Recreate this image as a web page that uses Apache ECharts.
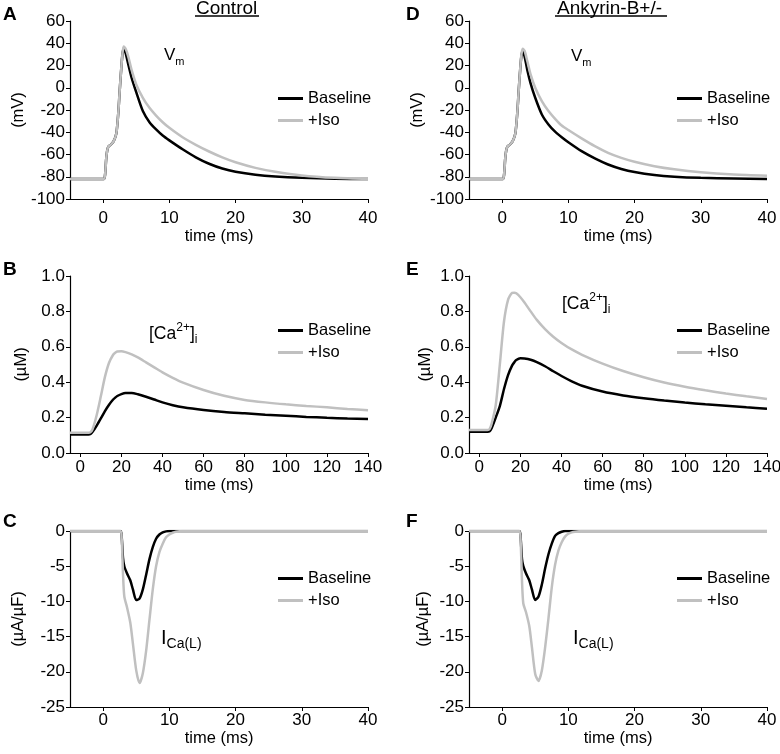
<!DOCTYPE html>
<html>
<head>
<meta charset="utf-8">
<script src="https://cdn.jsdelivr.net/npm/echarts@6/dist/echarts.min.js"></script>
<style>
  html, body { margin: 0; padding: 0; background: #fff; }
  #main { width: 780px; height: 754px; }
</style>
</head>
<body>
<div id="main"></div>
<script>
// membrane potential, time in ms
const vmTime = [-5, 0.1, 0.3, 0.45, 0.6, 0.8, 1.2, 1.6, 2.0, 2.3, 2.5, 2.7, 2.9, 3.1, 3.4, 3.8, 4.3, 5, 6, 7, 8, 9, 10, 12, 14, 16, 18, 20, 23, 26, 30, 35, 40];
const ctrlVmBase = [-82, -82, -78, -65, -57, -53, -51, -48, -41, -22, -3, 14, 29, 35.5, 31, 21, 9, -4, -21, -31, -37.5, -43, -47.3, -55.3, -62.5, -68.3, -72.6, -75.5, -78.2, -79.8, -81, -81.8, -82];
const ctrlVmIso = [-82, -82, -78, -65, -57, -53, -51, -48, -41, -22, -3, 14, 29, 37, 35, 28, 16, 3, -9, -18, -25, -31, -36, -44.5, -51.3, -57.3, -62.6, -67, -72, -75.5, -78.8, -81, -82];
const ankVmBase = [-82, -82, -78, -65, -57, -53, -51, -48, -41, -22, -3, 14, 28, 33, 28, 16, 4, -9, -24, -33, -39.5, -44.5, -49, -57, -63.5, -69, -73, -75.8, -78.5, -80, -81, -81.5, -82];
const ankVmIso = [-82, -82, -78, -65, -57, -53, -51, -48, -41, -22, -3, 14, 29, 35, 33, 24, 12, 0, -12, -21, -28, -34, -38, -45.5, -52.5, -58.5, -63, -66.5, -70.5, -73.3, -75.9, -77.9, -79];

// calcium transient
const caTime = [-5, 0, 4, 5, 6, 8, 10, 12, 14, 16, 17, 18, 20, 22, 25, 28, 32, 36, 40, 45, 50, 60, 70, 80, 90, 100, 110, 120, 130, 140];
const ctrlCaBase = [0.105, 0.105, 0.105, 0.108, 0.12, 0.155, 0.195, 0.237, 0.273, 0.302, 0.313, 0.322, 0.333, 0.339, 0.339, 0.332, 0.318, 0.302, 0.286, 0.27, 0.258, 0.243, 0.232, 0.224, 0.216, 0.21, 0.204, 0.199, 0.195, 0.192];
const ctrlCaIso = [0.115, 0.115, 0.115, 0.118, 0.135, 0.215, 0.32, 0.43, 0.51, 0.555, 0.566, 0.573, 0.575, 0.57, 0.557, 0.54, 0.512, 0.484, 0.456, 0.425, 0.398, 0.356, 0.323, 0.3, 0.286, 0.275, 0.266, 0.258, 0.249, 0.241];
const ankCaBase = [0.12, 0.12, 0.12, 0.123, 0.14, 0.2, 0.265, 0.36, 0.44, 0.495, 0.512, 0.525, 0.535, 0.534, 0.527, 0.514, 0.49, 0.462, 0.435, 0.405, 0.38, 0.347, 0.325, 0.309, 0.296, 0.285, 0.275, 0.267, 0.258, 0.25];
const ankCaIso = [0.13, 0.13, 0.13, 0.135, 0.165, 0.27, 0.5, 0.74, 0.865, 0.905, 0.906, 0.902, 0.88, 0.85, 0.8, 0.752, 0.7, 0.657, 0.622, 0.585, 0.555, 0.505, 0.463, 0.428, 0.398, 0.374, 0.354, 0.336, 0.32, 0.305];

// L-type calcium current
const icaTime = [-5, 2.6, 2.8, 3.0, 3.2, 3.6, 4.1, 4.5, 5.0, 5.5, 6.0, 6.5, 7.0, 7.5, 8.0, 8.5, 9.0, 9.5, 10, 10.5, 11, 12, 20, 40];
const ctrlIcaBase = [0, 0, -0.8, -3.8, -5, -6, -7, -8.3, -9.8, -9.6, -8.3, -6.2, -4, -2.3, -1.1, -0.5, -0.2, -0.05, 0, 0, 0, 0, 0, 0];
const ctrlIcaIso = [0, 0, -1, -6, -9.3, -10.8, -13, -16, -19.8, -21.6, -20.2, -17, -12.6, -8.3, -5, -3, -1.8, -0.9, -0.5, -0.25, -0.1, 0, 0, 0];
const ankIcaBase = [0, 0, -1, -4, -5, -6, -7, -8.3, -9.8, -9.3, -7.6, -5.3, -3.3, -1.8, -0.7, -0.3, -0.1, 0, 0, 0, 0, 0, 0, 0];
const ankIcaIso = [0, 0, -1.5, -7, -10.3, -11.5, -13.5, -16.5, -20.3, -21.3, -19.8, -16.5, -12.4, -8, -4.8, -2.8, -1.6, -0.8, -0.4, -0.2, -0.1, 0, 0, 0];

const shortTicks = [0, 10, 20, 30, 40];
const longTicks = [0, 20, 40, 60, 80, 100, 120, 140];

const FONT = 'Liberation Sans, Arial, sans-serif';
const BLACK = '#000000';
const GRAY = '#c0c0c0';

const pair = (t, v) => t.map((x, i) => [x, v[i]]);

// one entry per panel: A, D, B, E, C, F
const panels = [
  { left: 70, top: 21, height: 178, xmax: 40, ticks: shortTicks, ymin: -100, ymax: 60, step: 20, yname: '(mV)', yGap: 40, lm: 11, xGap: 29, lgTop: 90, t: vmTime, base: ctrlVmBase, iso: ctrlVmIso },
  { left: 469, top: 21, height: 178, xmax: 40, ticks: shortTicks, ymin: -100, ymax: 60, step: 20, yname: '(mV)', yGap: 37, lm: 11, xGap: 29, lgTop: 90, t: vmTime, base: ankVmBase, iso: ankVmIso },
  { left: 70, top: 276, height: 177, xmax: 140, ticks: longTicks, ymin: 0, ymax: 1, step: 0.2, yname: '(\u00b5M)', yGap: 40, lm: 6, xGap: 23, lgTop: 322, t: caTime, base: ctrlCaBase, iso: ctrlCaIso, fixed: 1 },
  { left: 469, top: 276, height: 177, xmax: 140, ticks: longTicks, ymin: 0, ymax: 1, step: 0.2, yname: '(\u00b5M)', yGap: 35, lm: 6, xGap: 23, lgTop: 322, t: caTime, base: ankCaBase, iso: ankCaIso, fixed: 1 },
  { left: 70, top: 531, height: 176, xmax: 40, ticks: shortTicks, ymin: -25, ymax: 0, step: 5, yname: '(\u00b5A/\u00b5F)', yGap: 43, lm: 5, xGap: 23, lgTop: 570, t: icaTime, base: ctrlIcaBase, iso: ctrlIcaIso },
  { left: 469, top: 531, height: 176, xmax: 40, ticks: shortTicks, ymin: -25, ymax: 0, step: 5, yname: '(\u00b5A/\u00b5F)', yGap: 37, lm: 5, xGap: 23, lgTop: 570, t: icaTime, base: ankIcaBase, iso: ankIcaIso }
];

const axisLine = { show: true, onZero: false, lineStyle: { color: BLACK, width: 1.2 } };
const tickText = { color: BLACK, fontSize: 17, fontFamily: FONT };
const nameText = { color: BLACK, fontSize: 16.5, fontFamily: FONT };

const grid = [], xAxis = [], yAxis = [], series = [], legend = [];
panels.forEach((p, i) => {
  grid.push({ left: p.left, top: p.top, width: 298, height: p.height, outerBoundsMode: 'none' });
  xAxis.push({
    type: 'value', gridIndex: i, min: -5, max: p.xmax,
    name: 'time (ms)', nameLocation: 'middle', nameGap: p.xGap, nameTextStyle: nameText,
    axisLine: axisLine,
    axisTick: { show: true, length: 4, customValues: p.ticks, lineStyle: { color: BLACK } },
    axisLabel: Object.assign({ margin: p.lm, customValues: p.ticks }, tickText),
    splitLine: { show: false }
  });
  yAxis.push({
    type: 'value', gridIndex: i, min: p.ymin, max: p.ymax, interval: p.step,
    name: p.yname, nameLocation: 'middle', nameGap: p.yGap, nameTextStyle: nameText,
    axisLine: axisLine,
    axisTick: { show: true, length: 4, lineStyle: { color: BLACK } },
    axisLabel: Object.assign({
      margin: 5,
      formatter: p.fixed ? (v) => v.toFixed(1) : (v) => String(Math.round(v))
    }, tickText),
    splitLine: { show: false }
  });
  series.push({
    name: 'Baseline', type: 'line', xAxisIndex: i, yAxisIndex: i,
    data: pair(p.t, p.base), showSymbol: false, symbol: 'none', smooth: 0.25,
    lineStyle: { color: BLACK, width: 2.5 }, itemStyle: { color: BLACK }
  });
  series.push({
    name: '+Iso', type: 'line', xAxisIndex: i, yAxisIndex: i,
    data: pair(p.t, p.iso), showSymbol: false, symbol: 'none', smooth: 0.25,
    lineStyle: { color: GRAY, width: 2.5 }, itemStyle: { color: GRAY }
  });
  legend.push({
    data: ['Baseline', '+Iso'], orient: 'vertical', left: p.left + 208, top: p.lgTop,
    icon: 'rect', itemWidth: 25, itemHeight: 3, itemGap: 5, padding: 0, selectedMode: false,
    textStyle: Object.assign({ lineHeight: 16 }, nameText)
  });
});

const letter = (ch, x, y) => ({
  type: 'text', left: x, top: y,
  style: { text: ch, fill: BLACK, font: 'bold 19px ' + FONT }
});
const label = (txt, rich, x, y) => ({
  type: 'text', left: x, top: y,
  style: { text: txt, rich: rich, fill: BLACK, fontFamily: FONT }
});
const vmRich = {
  n: { fontSize: 17, lineHeight: 24, fontFamily: FONT, color: BLACK },
  s: { fontSize: 11, lineHeight: 11, verticalAlign: 'bottom', fontFamily: FONT, color: BLACK }
};
const caRich = {
  n: { fontSize: 17.5, lineHeight: 24, fontFamily: FONT, color: BLACK },
  p: { fontSize: 12, lineHeight: 20, verticalAlign: 'top', fontFamily: FONT, color: BLACK },
  s: { fontSize: 12, lineHeight: 12, verticalAlign: 'bottom', fontFamily: FONT, color: BLACK }
};
const icaRich = {
  n: { fontSize: 20, lineHeight: 26, fontFamily: FONT, color: BLACK },
  s: { fontSize: 14, lineHeight: 14, verticalAlign: 'bottom', fontFamily: FONT, color: BLACK }
};

const graphic = [
  letter('A', 3, 5), letter('B', 3, 260), letter('C', 3, 512),
  letter('D', 406, 5), letter('E', 406, 260), letter('F', 406, 512),
  { type: 'text', left: 196, top: -1, style: { text: 'Control', fill: BLACK, font: '19px ' + FONT } },
  { type: 'line', shape: { x1: 195, y1: 16, x2: 259, y2: 16 }, style: { stroke: BLACK, lineWidth: 1.5 } },
  { type: 'text', left: 557, top: -1, style: { text: 'Ankyrin-B+/-', fill: BLACK, font: '19px ' + FONT } },
  { type: 'line', shape: { x1: 555, y1: 16, x2: 667, y2: 16 }, style: { stroke: BLACK, lineWidth: 1.5 } },
  label('{n|V}{s|m}', vmRich, 164, 47),
  label('{n|V}{s|m}', vmRich, 571, 48),
  label('{n|[Ca}{p|2+}{n|]}{s|i}', caRich, 149, 322),
  label('{n|[Ca}{p|2+}{n|]}{s|i}', caRich, 562, 292),
  label('{n|I}{s|Ca(L)}', icaRich, 161, 628),
  label('{n|I}{s|Ca(L)}', icaRich, 573, 628)
];

const chart = echarts.init(document.getElementById('main'));
chart.setOption({
  animation: false,
  backgroundColor: '#ffffff',
  textStyle: { fontFamily: FONT },
  grid: grid,
  xAxis: xAxis,
  yAxis: yAxis,
  legend: legend,
  series: series,
  graphic: graphic
});
</script>
</body>
</html>
